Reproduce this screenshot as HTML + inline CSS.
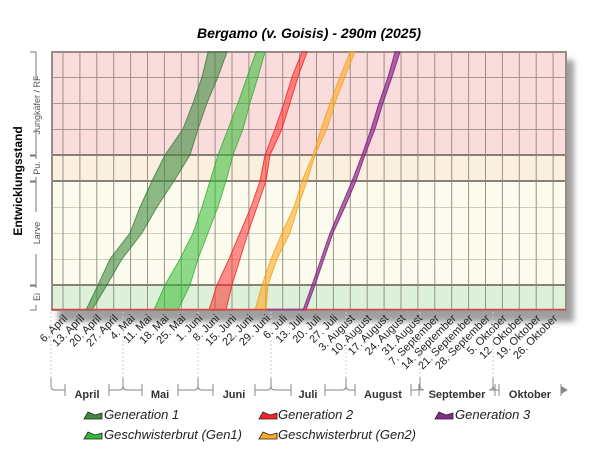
<!DOCTYPE html>
<html><head><meta charset="utf-8"><style>
html,body{margin:0;padding:0;background:#fff;}
svg{display:block;font-family:"Liberation Sans",sans-serif;}
</style></head><body>
<svg width="600" height="460" viewBox="0 0 600 460" xmlns="http://www.w3.org/2000/svg">
<defs>
<filter id="blur"><feGaussianBlur stdDeviation="3"/></filter>
</defs>
<text x="309" y="38" text-anchor="middle" font-size="14" font-weight="bold" font-style="italic">Bergamo (v. Goisis) - 290m (2025)</text>
<rect x="58" y="60" width="516" height="262" fill="#888" filter="url(#blur)" opacity="0.8"/>
<rect x="52" y="52" width="514" height="103" fill="#fbdcdc"/>
<rect x="52" y="155" width="514" height="26" fill="#fbefdd"/>
<rect x="52" y="181" width="514" height="104" fill="#fcfcee"/>
<rect x="52" y="285" width="514" height="25" fill="#dcf1d8"/>
<g stroke="#a89a94" stroke-width="1">
<line x1="52" y1="77.5" x2="566" y2="77.5"/><line x1="52" y1="103.5" x2="566" y2="103.5"/><line x1="52" y1="129.5" x2="566" y2="129.5"/>
<line x1="52" y1="207.5" x2="566" y2="207.5" stroke="#cfcfc0"/><line x1="52" y1="233.5" x2="566" y2="233.5" stroke="#cfcfc0"/><line x1="52" y1="259.5" x2="566" y2="259.5" stroke="#cfcfc0"/>
</g>
<g id="vg" stroke="#9a9088" stroke-width="1"></g>
<g stroke="#8a8078" stroke-width="2">
<line x1="52" y1="155" x2="566" y2="155"/><line x1="52" y1="181" x2="566" y2="181"/><line x1="52" y1="285" x2="566" y2="285"/>
</g>
<rect x="52" y="52" width="514" height="258" fill="none" stroke="#9a8a84" stroke-width="2"/>
<polygon points="86,310 98,285 110,259 130,233 140,207 152,181 165,155 183,129 193,103 202,77 208,52 227,52 218,77 207,103 198,129 190,155 174,181 157,207 142,233 122,259 107,285 92,310" fill="#3f8a3f" fill-opacity="0.6" stroke="#2f6f2f" stroke-opacity="0.7"/>
<polygon points="154,310 165,285 180,259 193,233 202,207 210,181 218,155 228,129 238,103 247,77 256,52 265,52 258,77 250,103 243,129 233,155 226,181 218,207 208,233 198,259 190,285 178,310" fill="#33bb33" fill-opacity="0.55" stroke="#2aa02a" stroke-opacity="0.7"/>
<polygon points="209,310 217,285 229,259 240,233 251,207 260,181 265,155 275,129 284,103 292,77 302,52 307,52 298,77 290,103 282,129 270,155 266,181 257,207 248,233 240,259 232,285 226,310" fill="#ff2020" fill-opacity="0.5" stroke="#f02020" stroke-opacity="0.8"/>
<polygon points="255,310 262,285 271,259 282,233 294,207 302,181 313,155 321,129 330,103 340,77 350,52 355,52 345,77 335,103 327,129 315,155 307,181 298,207 290,233 277,259 268,285 266,310" fill="#ffaa20" fill-opacity="0.6" stroke="#f0a020" stroke-opacity="0.8"/>
<polygon points="303,310 312,285 321,259 330,233 341,207 352,181 362,155 371,129 379,103 388,77 395,52 400,52 392,77 383,103 375,129 365,155 356,181 345,207 333,233 324,259 315,285 306,310" fill="#8a2a8a" fill-opacity="0.7" stroke="#7a1a7a" stroke-opacity="0.8"/>
<line x1="52" y1="309.5" x2="566" y2="309.5" stroke="#d44" stroke-width="1.5"/>
<line x1="267" y1="309.5" x2="305" y2="309.5" stroke="#9a3a9a" stroke-width="1.5"/>
<text transform="translate(22,181) rotate(-90)" text-anchor="middle" font-size="12" font-weight="bold">Entwicklungsstand</text>
<g stroke="#777" fill="none" stroke-width="1">
<path d="M30,52 h6 v28 M36,130 v25 h-6"/>
<path d="M30,156 h6 v3 M36,177 v4 h-6"/>
<path d="M30,182 h6 v30 M36,254 v31 h-6"/>
<path d="M30,286 h6 v2 M36,305 v5 h-6"/>
</g>
<g font-size="9" fill="#555" text-anchor="middle">
<text transform="translate(40,105) rotate(-90)">Jungkäfer / RF</text>
<text transform="translate(40,168) rotate(-90)">Pu.</text>
<text transform="translate(40,233) rotate(-90)">Larve</text>
<text transform="translate(40,297) rotate(-90)">Ei</text>
</g>
<g id="ticks" font-size="11" fill="#222" text-anchor="end"></g>
<g id="months" stroke="#888" fill="none"></g>
<g font-size="11" font-weight="bold" text-anchor="middle" fill="#333">
<text x="87" y="398">April</text><text x="160" y="398">Mai</text><text x="234" y="398">Juni</text><text x="308" y="398">Juli</text><text x="383" y="398">August</text><text x="457" y="398">September</text><text x="530" y="398">Oktober</text>
</g>
<g font-size="13" font-style="italic" fill="#222">
<path d="M84,419 l4,-7 l7,3 l7,-2 v6 z" fill="#3f8a3f" stroke="#222" stroke-width="0.8"/><text x="104" y="419">Generation 1</text>
<path d="M84,439 l4,-7 l7,3 l7,-2 v6 z" fill="#33bb33" stroke="#222" stroke-width="0.8"/><text x="104" y="439">Geschwisterbrut (Gen1)</text>
<path d="M259,419 l4,-7 l7,3 l7,-2 v6 z" fill="#f22" stroke="#222" stroke-width="0.8"/><text x="278" y="419">Generation 2</text>
<path d="M259,439 l4,-7 l7,3 l7,-2 v6 z" fill="#fa2" stroke="#222" stroke-width="0.8"/><text x="278" y="439">Geschwisterbrut (Gen2)</text>
<path d="M435,419 l4,-7 l7,3 l7,-2 v6 z" fill="#8a2a8a" stroke="#222" stroke-width="0.8"/><text x="455" y="419">Generation 3</text>
</g>
</svg>
<script>
var ns="http://www.w3.org/2000/svg";
function el(t,a,p){var e=document.createElementNS(ns,t);for(var k in a)e.setAttribute(k,a[k]);p.appendChild(e);return e;}
var vg=document.getElementById('vg'),tk=document.getElementById('ticks'),mo=document.getElementById('months');
var labels=["6. April","13. April","20. April","27. April","4. Mai","11. Mai","18. Mai","25. Mai","1. Juni","8. Juni","15. Juni","22. Juni","29. Juni","6. Juli","13. Juli","20. Juli","27. Juli","3. August","10. August","17. August","24. August","31. August","7. September","14. September","21. September","28. September","5. Oktober","12. Oktober","19. Oktober","26. Oktober"];
for(var i=0;i<30;i++){var x=63+i*16.9;
 if(x<566)el('line',{x1:x,y1:52,x2:x,y2:310},vg);
 var t=el('text',{transform:'translate('+(x+5)+',319) rotate(-45)'},tk);t.textContent=labels[i];}
var edges=[51,123,198,271,346,420,493,566];
for(var j=0;j<7;j++){var x=edges[j];
 el('line',{x1:x,y1:312,x2:x,y2:378,'stroke-dasharray':'2,2',stroke:'#ccc'},mo);
 el('path',{d:'M'+x+',378 v8 q0,4 4,4'},mo);
 if(j>0)el('path',{d:'M'+x+',378 v8 q0,4 -4,4'},mo);}
var mid=[87,160,234,308,383,457,530],hw=[17,13,16,12,23,33,26];
for(var j=0;j<7;j++){var L=edges[j]+4,R=edges[j+1]-4,c=mid[j];
 el('path',{d:'M'+L+',390 H'+(c-hw[j]-5)+' m0,-6 v12'},mo);
 el('path',{d:'M'+(c+hw[j]+5)+',384 v12 m0,-6 H'+R},mo);}
el('path',{d:'M562,387 l5,3 l-5,3 z',fill:'#888'},mo);
</script>
</body></html>
